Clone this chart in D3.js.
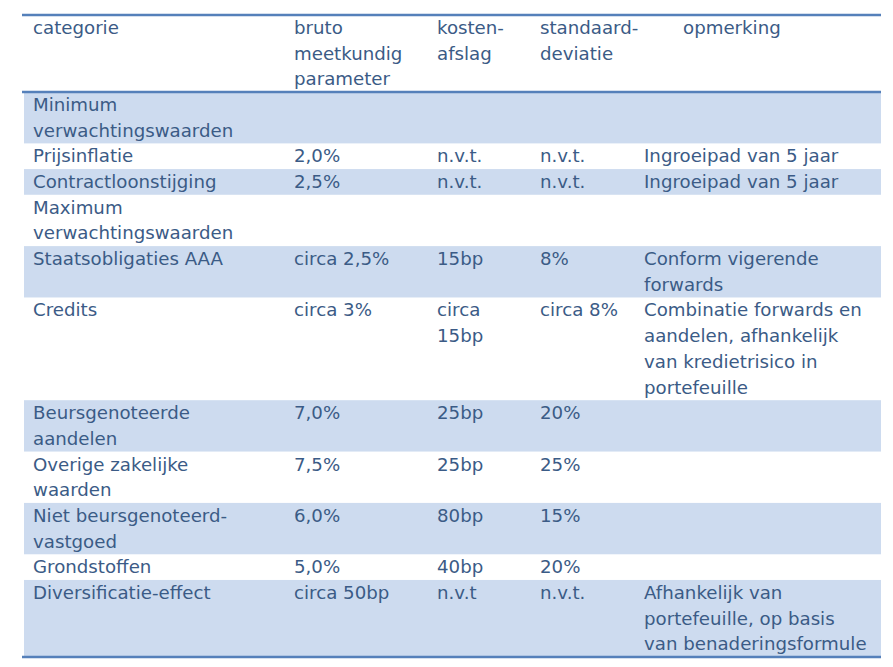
<!DOCTYPE html>
<html>
<head>
<meta charset="utf-8">
<script src="https://cdn.jsdelivr.net/npm/d3@7"></script>
<style>
  body { margin: 0; background: #fff; }
</style>
</head>
<body>
<script>
// table content, line breaks as in the original
var headers = ["categorie", "bruto\nmeetkundig\nparameter", "kosten-\nafslag", "standaard-\ndeviatie", "opmerking"];

var categories = [
  "Minimum\nverwachtingswaarden",
  "Prijsinflatie",
  "Contractloonstijging",
  "Maximum\nverwachtingswaarden",
  "Staatsobligaties AAA",
  "Credits",
  "Beursgenoteerde\naandelen",
  "Overige zakelijke\nwaarden",
  "Niet beursgenoteerd-\nvastgoed",
  "Grondstoffen",
  "Diversificatie-effect"
];
var bruto = ["", "2,0%", "2,5%", "", "circa 2,5%", "circa 3%", "7,0%", "7,5%", "6,0%", "5,0%", "circa 50bp"];
var kosten = ["", "n.v.t.", "n.v.t.", "", "15bp", "circa\n15bp", "25bp", "25bp", "80bp", "40bp", "n.v.t"];
var stddev = ["", "n.v.t.", "n.v.t.", "", "8%", "circa 8%", "20%", "25%", "15%", "20%", "n.v.t."];
var opmerking = [
  "", "Ingroeipad van 5 jaar", "Ingroeipad van 5 jaar", "",
  "Conform vigerende\nforwards",
  "Combinatie forwards en\naandelen, afhankelijk\nvan kredietrisico in\nportefeuille",
  "", "", "", "",
  "Afhankelijk van\nportefeuille, op basis\nvan benaderingsformule"
];

var W = 893, H = 667;
var textColor = "#3b5b86", shade = "#cddbef", rule = "#5580ba";
var fontSize = 18.2;

var svg = d3.select("body").append("svg").attr("width", W).attr("height", H);

// build rows: each cell is an array of lines
var rows = categories.map(function(c, i) {
  return [c, bruto[i], kosten[i], stddev[i], opmerking[i]].map(function(s) { return s.split("\n"); });
});
var headRow = headers.map(function(s) { return s.split("\n"); });

// cumulative line counts -> y position
var all = [headRow].concat(rows);
var starts = [], n = 0;
all.forEach(function(r) {
  starts.push(n);
  n += d3.max(r, function(c) { return c.length; });
});
var total = n;
var y = d3.scaleLinear().domain([0, total]).range([15, 657]);

var colX = [33, 294, 437, 540, 644];
var left = 24, right = 881;

// shaded body rows
rows.forEach(function(r, i) {
  if (i % 2 == 0) {
    var a = starts[i + 1];
    var b = (i + 2 < all.length) ? starts[i + 2] : total;
    svg.append("rect")
      .attr("x", left).attr("y", y(a))
      .attr("width", right - left).attr("height", y(b) - y(a))
      .attr("fill", shade);
  }
});

// draw text of all rows
all.forEach(function(r, i) {
  r.forEach(function(lines, j) {
    var x = colX[j];
    if (i == 0 && j == 4) x = 683;
    lines.forEach(function(line, k) {
      if (line == "") return;
      svg.append("text")
        .attr("x", x)
        .attr("y", y(starts[i] + k) + 19)
        .attr("font-family", "DejaVu Sans, Verdana, sans-serif")
        .attr("font-size", fontSize + "px")
        .attr("fill", textColor)
        .text(line);
    });
  });
});

// horizontal rules: top, under header, bottom
[y(0), y(starts[1]), y(total)].forEach(function(yy) {
  svg.append("line")
    .attr("x1", 22).attr("x2", right)
    .attr("y1", yy).attr("y2", yy)
    .attr("stroke", rule).attr("stroke-width", 2.5);
});
</script>
</body>
</html>
